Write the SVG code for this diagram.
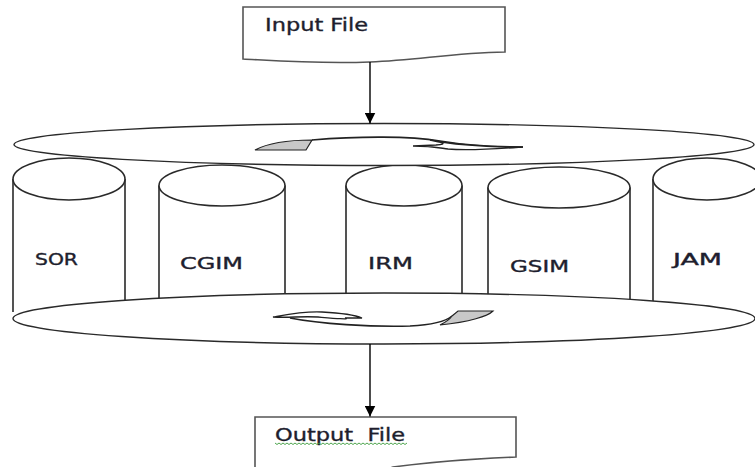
<svg xmlns="http://www.w3.org/2000/svg" width="755" height="467" viewBox="0 0 755 467">
<defs>
<style>
.ln{fill:#fff;stroke:#2a2a2a;stroke-width:1.4}
.cyl{fill:#fff;stroke:#2a2a2a;stroke-width:1.6}
.doc{fill:#fff;stroke:#555;stroke-width:1.6}
.conn{stroke:#000;stroke-width:1.4;fill:none}
.lbl{font-family:"DejaVu Sans","Verdana",sans-serif;fill:#1e1e2e;stroke:#1e1e2e;stroke-width:0.35}
.rib{fill:#fff;stroke:#222;stroke-width:1.3}
.grey{fill:#c8c8c8;stroke:#222;stroke-width:1.2}
</style>
<marker id="ah" viewBox="0 0 10 10" refX="10" refY="5" markerWidth="11" markerHeight="11" markerUnits="userSpaceOnUse" orient="auto">
<path d="M0,0 L10,5 L0,10 Z" fill="#000"/>
</marker>
</defs>
<rect width="755" height="467" fill="#fff"/>

<g id="input-file">
<path class="doc" d="M243,7 H505 V52 C450,53 420,60 370,62 C320,64 280,61 243,59 Z"/>
<text class="lbl" x="265" y="31" font-size="17" textLength="103" lengthAdjust="spacingAndGlyphs">Input File</text>
</g>

<g id="cyl-sor">
<path class="cyl" d="M13,179 V312 M125,179 V305"/>
<ellipse class="cyl" cx="69" cy="179" rx="56" ry="21"/>
<text class="lbl" x="35" y="265" font-size="15" textLength="43" lengthAdjust="spacingAndGlyphs">SOR</text>
</g>
<g id="cyl-cgim">
<path class="cyl" d="M159,185.5 V305 M285,185.5 V305"/>
<ellipse class="cyl" cx="222" cy="185.5" rx="63" ry="20.5"/>
<text class="lbl" x="180" y="269" font-size="15" textLength="63" lengthAdjust="spacingAndGlyphs">CGIM</text>
</g>
<g id="cyl-irm">
<path class="cyl" d="M346,185.5 V305 M462,185.5 V305"/>
<ellipse class="cyl" cx="404" cy="185.5" rx="58" ry="20.5"/>
<text class="lbl" x="368" y="269" font-size="15" textLength="45" lengthAdjust="spacingAndGlyphs">IRM</text>
</g>
<g id="cyl-gsim">
<path class="cyl" d="M488,187.5 V305 M630,187.5 V305"/>
<ellipse class="cyl" cx="559" cy="187.5" rx="71" ry="20.5"/>
<text class="lbl" x="510" y="272" font-size="15" textLength="59" lengthAdjust="spacingAndGlyphs">GSIM</text>
</g>
<g id="cyl-jam">
<path class="cyl" d="M653,179 V305 M761,179 V305"/>
<ellipse class="cyl" cx="707" cy="179" rx="54" ry="21"/>
<text class="lbl" x="673" y="265" font-size="15" textLength="49" lengthAdjust="spacingAndGlyphs">JAM</text>
</g>

<g id="top-disk">
<ellipse class="ln" cx="384" cy="144.5" rx="370" ry="21"/>
<path class="grey" d="M255,150 C268,143 290,140 312,140 L306,150 Z"/>
<path class="rib" style="fill:none;stroke-width:1.6" d="M312,140 C360,136 410,136 440,141 C470,146 500,147 523,147"/>
<path class="rib" d="M413,146 L436,145 C450,144 440,142 430,140 C460,146 490,147 523,147 C495,149 470,151 448,149 C440,148 432,146 413,146 Z"/>
</g>

<g id="bottom-disk">
<ellipse class="ln" cx="384" cy="318.5" rx="371" ry="25.5"/>
<path class="rib" d="M273,317 C290,314 305,311 322,312 C340,313 355,315 362,318 L345,318 C352,320 330,318 318,317 C300,316 290,318 273,317 Z"/>
<path class="rib" style="fill:none;stroke-width:1.6" d="M290,318 C320,324 370,327 410,326 C430,325 445,322 452,316"/>
<path class="grey" d="M452,316 L458,311 L493,311 C488,316 470,322 440,325 C446,322 450,319 452,316 Z"/>
</g>

<g id="output-file">
<path class="doc" d="M255,470 V417 H516 V457 C470,459 430,462 393,467 L385,470"/>
<text class="lbl" x="275" y="441" font-size="17" textLength="130" lengthAdjust="spacingAndGlyphs" xml:space="preserve" style="white-space:pre">Output  File</text>
<path fill="none" stroke="#3a9a3a" stroke-width="0.9" d="M275,443 l2,1.5 2,-1.5 2,1.5 2,-1.5 2,1.5 2,-1.5 2,1.5 2,-1.5 2,1.5 2,-1.5 2,1.5 2,-1.5 2,1.5 2,-1.5 2,1.5 2,-1.5 2,1.5 2,-1.5 2,1.5 2,-1.5 2,1.5 2,-1.5 2,1.5 2,-1.5 2,1.5 2,-1.5 2,1.5 2,-1.5 2,1.5 2,-1.5 2,1.5 2,-1.5 2,1.5 2,-1.5 2,1.5 2,-1.5 2,1.5 2,-1.5 2,1.5 2,-1.5 2,1.5 2,-1.5 2,1.5 2,-1.5 2,1.5 2,-1.5 2,1.5 2,-1.5 2,1.5 2,-1.5 2,1.5 2,-1.5 2,1.5 2,-1.5 2,1.5 2,-1.5 2,1.5 2,-1.5 2,1.5 2,-1.5 2,1.5 2,-1.5 2,1.5 2,-1.5 2,1.5 2,-1.5"/>
</g>

<g id="connectors">
<line class="conn" x1="370" y1="62" x2="370" y2="123.5" marker-end="url(#ah)"/>
<line class="conn" x1="370" y1="344" x2="370" y2="416.5" marker-end="url(#ah)"/>
</g>
</svg>
